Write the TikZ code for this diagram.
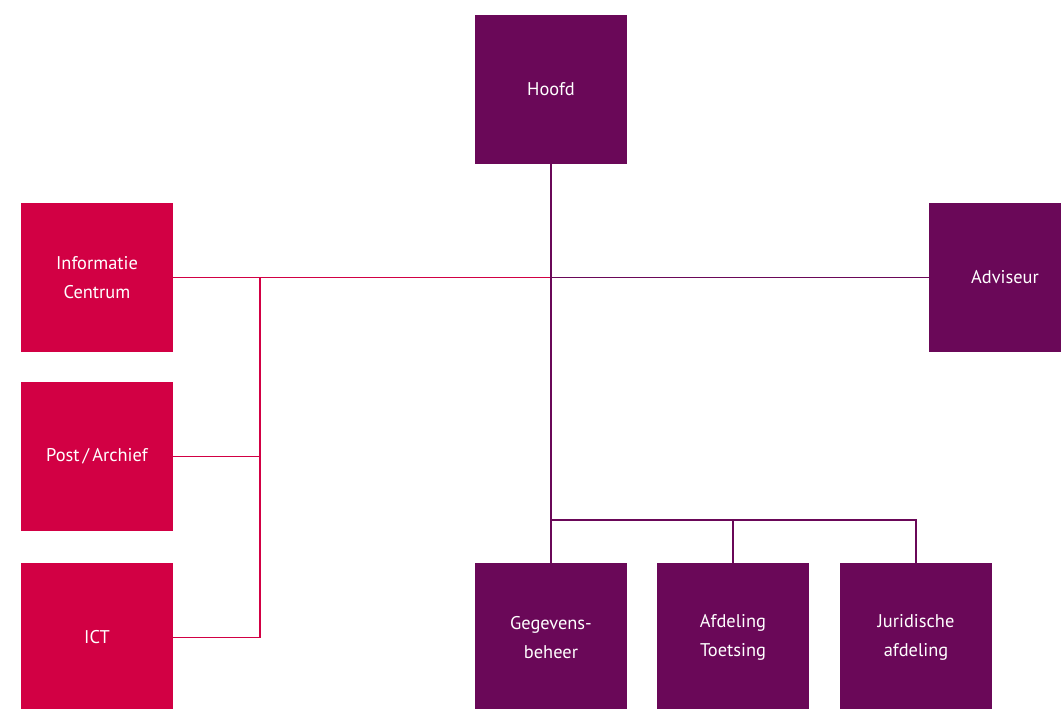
\documentclass[tikz,border=0pt]{standalone}
\usepackage{fontspec}
\setmainfont{PT Sans}
\usetikzlibrary{positioning}
\definecolor{ocrood}{HTML}{D20044}
\definecolor{ocpaars}{HTML}{6A0858}

\begin{document}
\begin{tikzpicture}[x=0.75pt,y=-0.75pt,
		box/.style={minimum width=114pt,minimum height=111.75pt,inner sep=0pt,text=white,align=center,font=\fontsize{13.8}{22}\selectfont},
		rood/.style={box,fill=ocrood},
		paars/.style={box,fill=ocpaars},
		lijn/.style={line width=1pt}]
	\useasboundingbox (0,0) rectangle (1061,709);
	% blokken
	\node[paars] (hoofd) at (551,89.5) {Hoofd};
	\node[rood] (info) at (97,277.5) {Informatie\\Centrum};
	\node[rood] (post) at (97,456.5) {Post\,/\,Archief};
	\node[rood] (ict) at (97,637.5) {ICT};
	\node[paars] (adviseur) at (1005,277.5) {Adviseur};
	\node[paars] (gegevens) at (551,637.5) {Gegevens-\\beheer};
	\node[paars] (toetsing) at (733,637.5) {Afdeling\\Toetsing};
	\node[paars] (juridisch) at (916,637.5) {Juridische\\afdeling};
	\coordinate (links) at (260,277.5);
	\coordinate (onder) at (551,520);
	% lijnen
	\draw[lijn,ocrood] (info.east) -- (hoofd.south |- info.east);
	\draw[lijn,ocrood] (post.east) -- (post.east -| links) -- (links);
	\draw[lijn,ocrood] (ict.east) -- (ict.east -| links) -- (post.east -| links);
	\draw[lijn,ocpaars] (hoofd.south |- adviseur.west) -- (adviseur.west);
	\draw[lijn,ocpaars] (hoofd.south) -- (gegevens.north);
	\draw[lijn,ocpaars] (onder) -| (juridisch.north);
	\draw[lijn,ocpaars] (toetsing.north) -- (toetsing.north |- onder);
\end{tikzpicture}
\end{document}
